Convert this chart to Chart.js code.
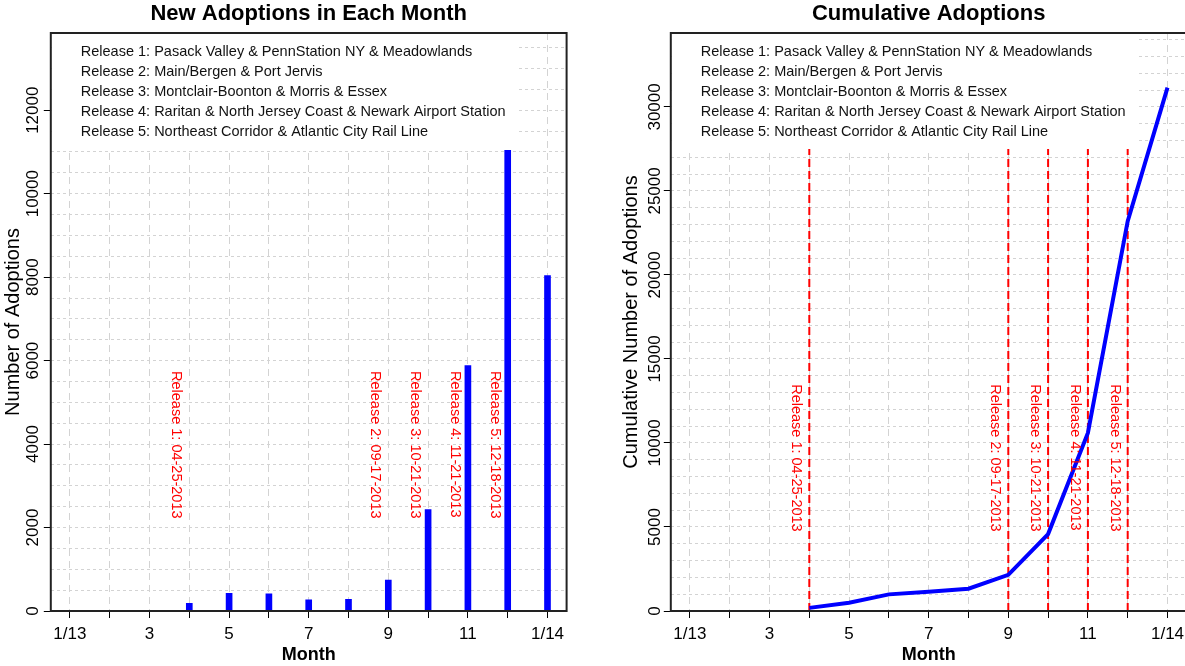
<!DOCTYPE html>
<html>
<head>
<meta charset="utf-8">
<script src="https://cdn.jsdelivr.net/npm/chart.js@4/dist/chart.umd.min.js"></script>
<style>
  html, body { margin: 0; padding: 0; background: #fff; overflow: hidden; }
  #wrapNew { position: absolute; left: 0; top: 0; }
  #wrapCum { position: absolute; left: 600px; top: 0; }
</style>
</head>
<body>
<div id="wrapNew"><canvas id="canvasNew" width="600" height="666"></canvas></div>
<div id="wrapCum"><canvas id="canvasCum" width="590" height="666"></canvas></div>
<script>
// months on the x axis (1 = 1/13 ... 13 = 1/14)
var months = [1, 2, 3, 4, 5, 6, 7, 8, 9, 10, 11, 12, 13];
var monthLabels = ["1/13", "2", "3", "4", "5", "6", "7", "8", "9", "10", "11", "12", "1/14"];

// adoptions, months 4..13
var adoptMonths = [4, 5, 6, 7, 8, 9, 10, 11, 12, 13];
var newAdoptions = [185, 425, 410, 265, 280, 740, 2430, 5880, 11040, 8040];
var cumAdoptions = [185, 495, 990, 1150, 1330, 2150, 4580, 10600, 23200, 31150];

// releases
var releaseMonths = [4, 9, 10, 11, 12];
var releaseTexts = ["Release 1: 04-25-2013", "Release 2: 09-17-2013", "Release 3: 10-21-2013",
                    "Release 4: 11-21-2013", "Release 5: 12-18-2013"];
var legendLines = [
  "Release 1: Pasack Valley & PennStation NY & Meadowlands",
  "Release 2: Main/Bergen & Port Jervis",
  "Release 3: Montclair-Boonton & Morris & Essex",
  "Release 4: Raritan & North Jersey Coast & Newark Airport Station",
  "Release 5: Northeast Corridor & Atlantic City Rail Line"
];

// y axis labels
var newTicks = [0, 2000, 4000, 6000, 8000, 10000, 12000];
var cumTicks = [0, 5000, 10000, 15000, 20000, 25000, 30000];

var fontFam = '"Liberation Sans", Arial, sans-serif';
Chart.defaults.font.family = fontFam;
Chart.defaults.color = '#000';

function gridTicks(max, step) {
  var a = [];
  for (var v = 0; v <= max; v += step) a.push({value: v});
  return a;
}

function pts(xs, ys) {
  return xs.map(function (x, i) { return {x: x, y: ys[i]}; });
}

// title, legend box, release labels and frame
var decor = {
  id: 'decor',
  afterDatasetsDraw: function (chart, args, opts) {
    var ctx = chart.ctx, a = chart.chartArea;
    var xs = chart.scales.x, ys = chart.scales.y;
    ctx.save();

    // release labels
    ctx.fillStyle = '#FF0000';
    ctx.font = '14.5px ' + fontFam;
    ctx.textAlign = 'left';
    ctx.textBaseline = 'middle';
    for (var i = 0; i < releaseMonths.length; i++) {
      ctx.save();
      ctx.translate(xs.getPixelForValue(releaseMonths[i]) - 13, ys.getPixelForValue(opts.textAt));
      ctx.rotate(Math.PI / 2);
      ctx.fillText(releaseTexts[i], 0, 0);
      ctx.restore();
    }

    // legend
    ctx.font = '14.5px ' + fontFam;
    var w = 0;
    legendLines.forEach(function (t) { w = Math.max(w, ctx.measureText(t).width); });
    ctx.fillStyle = '#fff';
    ctx.fillRect(a.left + 1, a.top + 1, w + 40, 115);
    ctx.fillStyle = '#111';
    legendLines.forEach(function (t, k) { ctx.fillText(t, a.left + 30, a.top + 19 + k * 20); });

    // title
    ctx.font = 'bold 22px ' + fontFam;
    ctx.textAlign = 'center';
    ctx.fillStyle = '#000';
    ctx.fillText(opts.title, (a.left + a.right) / 2, 14);

    // frame
    ctx.strokeStyle = '#222';
    ctx.lineWidth = 2;
    ctx.strokeRect(a.left, a.top, a.right - a.left, a.bottom - a.top);
    ctx.restore();
  }
};

function xAxis() {
  return {
    type: 'linear', min: 0.52, max: 13.48, offset: false,
    afterBuildTicks: function (s) { s.ticks = months.map(function (m) { return {value: m}; }); },
    afterFit: function (s) { s.height = 55; },
    ticks: {
      autoSkip: false, maxRotation: 0, padding: 5.8, font: {size: 17}, color: '#000',
      callback: function (v, i) { return i % 2 === 0 ? monthLabels[i] : ''; }
    },
    grid: { color: '#D3D3D3', offset: false, tickLength: 7, tickColor: '#000', tickWidth: 1 },
    border: { display: false, dash: [7, 5] },
    title: { display: true, text: 'Month', font: {size: 18, weight: 'bold'}, padding: {top: 0, bottom: 0} }
  };
}

function yAxis(max, step, labels, width, labelPad, title, titlePad) {
  return {
    type: 'linear', min: 0, max: max,
    afterBuildTicks: function (s) { s.ticks = gridTicks(max, step); },
    afterFit: function (s) { s.width = width; },
    ticks: {
      autoSkip: false, minRotation: 90, maxRotation: 90, crossAlign: 'center', padding: labelPad,
      font: {size: 17}, color: '#000',
      callback: function (v) { return labels.indexOf(v) >= 0 ? String(v) : ''; }
    },
    grid: {
      color: '#D3D3D3', tickLength: 7, tickWidth: 1,
      tickColor: function (c) { return c.tick && labels.indexOf(c.tick.value) >= 0 ? '#000' : 'rgba(0,0,0,0)'; }
    },
    border: { display: false, dash: [3, 3] },
    title: { display: true, text: title, font: {size: 20}, padding: {top: titlePad, bottom: 0} }
  };
}

new Chart(document.getElementById('canvasNew').getContext('2d'), {
  type: 'bar',
  data: {
    datasets: [{
      data: pts(adoptMonths, newAdoptions),
      backgroundColor: '#0000FF',
      borderWidth: 0,
      barThickness: 6
    }]
  },
  options: {
    responsive: false,
    animation: false,
    events: [],
    layout: { padding: {top: 33, right: 33.4, bottom: 0, left: 0} },
    plugins: {
      legend: {display: false},
      tooltip: {enabled: false},
      decor: {title: 'New Adoptions in Each Month', textAt: 5750}
    },
    scales: {
      x: xAxis(),
      y: yAxis(13850, 500, newTicks, 50.8, -12.8, 'Number of Adoptions', 1)
    }
  },
  plugins: [decor]
});

var cumSets = [{
  data: pts(adoptMonths, cumAdoptions),
  borderColor: '#0000FF',
  borderWidth: 4,
  pointRadius: 0,
  tension: 0
}];
releaseMonths.forEach(function (m) {
  cumSets.push({
    data: [{x: m, y: 0}, {x: m, y: 34400}],
    borderColor: '#FF0000',
    borderWidth: 2,
    borderDash: [8, 4],
    pointRadius: 0
  });
});

new Chart(document.getElementById('canvasCum').getContext('2d'), {
  type: 'line',
  data: { datasets: cumSets },
  options: {
    responsive: false,
    animation: false,
    events: [],
    layout: { padding: {top: 33, right: 3.4, bottom: 0, left: 0} },
    plugins: {
      legend: {display: false},
      tooltip: {enabled: false},
      decor: {title: 'Cumulative Adoptions', textAt: 13500}
    },
    scales: {
      x: xAxis(),
      y: yAxis(34400, 1000, cumTicks, 70.8, -14.8, 'Cumulative Number of Adoptions', 19)
    }
  },
  plugins: [decor]
});
</script>
</body>
</html>
